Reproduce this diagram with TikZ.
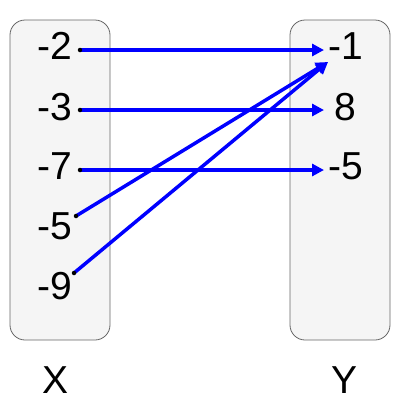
\documentclass[tikz,border=0pt]{standalone}
\usepackage{fontspec}
\setmainfont{Liberation Sans}
\usetikzlibrary{arrows.meta}
\definecolor{boxfill}{HTML}{F5F5F5}
\definecolor{boxline}{HTML}{666666}
\begin{document}
\begin{tikzpicture}[x=1pt,y=-1pt,
  setbox/.style={draw=boxline,fill=boxfill,line width=0.8pt,rounded corners=15pt},
  num/.style={inner sep=0pt,font=\fontsize{39}{42}\selectfont},
  link/.style={draw=blue,line width=3.5pt,-{Triangle[length=12pt,width=12pt]}},
  startdot/.style={fill=black,circle,inner sep=0pt,minimum size=4.5pt}]
\useasboundingbox (0,0) rectangle (400,400);
\draw[setbox] (10,20) rectangle (110,340);
\draw[setbox] (290,20) rectangle (390,340);
% left labels
\node[num,anchor=east] (a2) at (72,46) {-2};
\node[num,anchor=east] (a3) at (72,107) {-3};
\node[num,anchor=east] (a7) at (72,166) {-7};
\node[num,anchor=east] (a5) at (72,226) {-5};
\node[num,anchor=east] (a9) at (72,286) {-9};
% right labels
\node[num,anchor=west] (b1) at (328,46) {-1};
\node[num] (b8) at (345,107.5) {8};
\node[num,anchor=west] (b5) at (328,166) {-5};
% set names
\node[num] (X) at (55.5,380) {X};
\node[num] (Y) at (345,380) {Y};
% connection points
\coordinate (s2) at (80,50);
\coordinate (s3) at (80,110);
\coordinate (s7) at (80,170);
\coordinate (s5) at (76,216);
\coordinate (s9) at (74,273);
\coordinate (t1) at (324,50);
\coordinate (t8) at (324,110);
\coordinate (t5) at (324,170);
\coordinate (td) at (328,62);
\draw[link] (s2) -- (t1);
\draw[link] (s3) -- (t8);
\draw[link] (s7) -- (t5);
\draw[link] (s5) -- (td);
\draw[link] (s9) -- (td);
\foreach \p in {s2,s3,s7,s5,s9} \node[startdot] at (\p) {};
\end{tikzpicture}
\end{document}
